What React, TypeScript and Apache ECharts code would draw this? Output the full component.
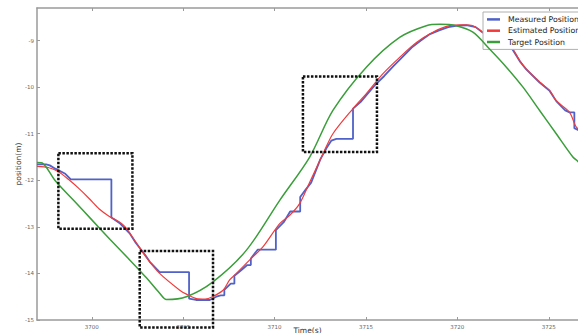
import React, { useEffect, useRef } from "react";
import * as echarts from "echarts";

const seriesNames = ["Measured Position", "Estimated Position", "Target Position"];

const measured: [number, number][] = [
  [3697.0, -11.66], [3697.5, -11.66], [3697.7, -11.68], [3698.0, -11.75], [3698.55, -11.86],
  [3698.85, -11.98], [3701.07, -11.98], [3701.07, -12.8], [3701.55, -12.93], [3702.07, -13.14],
  [3702.4, -13.34], [3702.95, -13.62], [3703.17, -13.75], [3703.71, -13.97], [3705.32, -13.97],
  [3705.32, -14.54], [3705.7, -14.57], [3706.45, -14.57], [3706.81, -14.5], [3707.05, -14.47],
  [3707.25, -14.47], [3707.25, -14.35], [3707.6, -14.22], [3707.8, -14.22], [3707.8, -14.05],
  [3708.2, -13.92], [3708.5, -13.82], [3708.7, -13.82], [3708.7, -13.68], [3709.07, -13.49],
  [3710.07, -13.49], [3710.07, -13.07], [3710.5, -12.9], [3710.85, -12.67], [3711.4, -12.67],
  [3711.4, -12.36], [3711.7, -12.2], [3712.0, -12.05], [3712.5, -11.55], [3712.85, -11.3],
  [3713.1, -11.15], [3713.38, -11.11], [3714.29, -11.11], [3714.29, -10.46], [3714.7, -10.32],
  [3715.0, -10.18], [3715.5, -9.95], [3716.0, -9.76], [3716.5, -9.55], [3717.0, -9.35],
  [3717.5, -9.15], [3718.0, -9.0], [3718.5, -8.86], [3719.0, -8.78], [3719.5, -8.71],
  [3720.0, -8.68], [3720.5, -8.67], [3721.0, -8.71], [3721.4, -8.83], [3722.2, -8.96],
  [3722.95, -9.15], [3723.41, -9.44], [3723.77, -9.62], [3724.5, -9.9], [3725.05, -10.08],
  [3725.41, -10.3], [3725.9, -10.5], [3726.14, -10.54], [3726.4, -10.54], [3726.4, -10.88],
  [3726.6, -10.92], [3727.0, -11.0],
];

const estimated: [number, number][] = [
  [3697.0, -11.7], [3697.66, -11.73], [3698.2, -11.82], [3698.75, -11.99], [3699.3, -12.18],
  [3699.85, -12.39], [3700.39, -12.61], [3700.94, -12.77], [3701.49, -12.89], [3701.85, -13.01],
  [3702.4, -13.32], [3702.95, -13.64], [3703.71, -14.0], [3704.81, -14.36], [3705.2, -14.45],
  [3705.72, -14.54], [3706.2, -14.55], [3706.6, -14.5], [3707.18, -14.36], [3707.54, -14.14],
  [3707.91, -14.0], [3708.64, -13.71], [3709.36, -13.43], [3710.28, -12.93], [3710.83, -12.75],
  [3711.37, -12.5], [3711.92, -12.04], [3712.65, -11.43], [3713.19, -11.0], [3714.29, -10.46],
  [3715.02, -10.14], [3715.93, -9.71], [3716.84, -9.36], [3717.76, -9.04], [3718.66, -8.82],
  [3719.57, -8.68], [3720.3, -8.66], [3720.85, -8.68], [3721.4, -8.82], [3722.2, -8.96],
  [3722.95, -9.14], [3723.41, -9.43], [3723.77, -9.61], [3724.5, -9.89], [3725.05, -10.07],
  [3725.41, -10.29], [3726.14, -10.54], [3726.51, -10.86], [3727.0, -11.0],
];

const target: [number, number][] = [
  [3697.0, -11.62], [3697.33, -11.64], [3698.0, -12.01], [3699.0, -12.43], [3700.0, -12.85],
  [3701.0, -13.27], [3702.0, -13.68], [3703.0, -14.1], [3703.7, -14.42], [3704.08, -14.56],
  [3705.17, -14.5], [3706.63, -14.18], [3708.46, -13.5], [3710.28, -12.43], [3711.92, -11.5],
  [3713.19, -10.5], [3715.02, -9.57], [3716.84, -8.93], [3718.3, -8.68], [3719.03, -8.65],
  [3719.94, -8.68], [3720.85, -8.82], [3721.76, -9.18], [3722.68, -9.57], [3723.59, -10.0],
  [3724.5, -10.5], [3725.41, -11.0], [3726.32, -11.5], [3726.58, -11.59], [3727.0, -11.75],
];

// dashed highlight boxes: [tStart, vTop, tEnd, vBottom]
const boxes: [number, number, number, number][] = [
  [3698.17, -11.42, 3702.22, -13.04],
  [3702.62, -13.52, 3706.63, -15.16],
  [3711.55, -9.77, 3715.6, -11.39],
];

const xTicks = [3700, 3705, 3710, 3715, 3720, 3725];
const yTicks = [-15, -14, -13, -12, -11, -10, -9];

const FONT = "DejaVu Sans";

export default function App() {
  const ref = useRef<HTMLDivElement>(null);
  useEffect(() => {
    const chart = echarts.init(ref.current!, null, { renderer: "svg" });
    const axisColor = "#9a9a9a";
    const xCommon = {
      type: "value" as const,
      min: 3697,
      max: 3726.6,
      splitLine: { show: false },
      axisLine: { show: true, lineStyle: { color: axisColor, width: 1.5 } },
      axisTick: {
        show: true,
        inside: true,
        length: 3,
        lineStyle: { color: axisColor },
        customValues: xTicks,
      },
    };
    chart.setOption({
      animation: false,
      backgroundColor: "#ffffff",
      grid: { left: 37, top: 8, right: 0, height: 312, outerBoundsMode: "none", containLabel: false },
      legend: {
        data: seriesNames,
        orient: "vertical",
        left: 483,
        top: 12,
        padding: [2, 4, 2, 4],
        itemGap: 0.5,
        itemWidth: 13,
        itemHeight: 2.5,
        icon: "rect",
        backgroundColor: "#ffffff",
        borderColor: "#b0b0b0",
        borderWidth: 1,
        borderRadius: 0,
        textStyle: {
          fontFamily: FONT,
          fontSize: 7.8,
          color: "#222",
          lineHeight: 10.8,
          padding: [0, 0, 0, 3],
        },
      },
      xAxis: [
        {
          ...xCommon,
          position: "bottom",
          name: "Time(s)",
          nameLocation: "middle",
          nameGap: 6,
          nameMoveOverlap: false,
          nameTextStyle: { fontFamily: FONT, fontSize: 7.5, color: "#333" },
          axisLabel: {
            fontFamily: FONT,
            fontSize: 5.5,
            color: "#666",
            margin: 4,
            customValues: xTicks,
            formatter: (v: number) => String(v),
          },
        },
        {
          ...xCommon,
          position: "top",
          axisLabel: { show: false },
        },
      ],
      yAxis: {
        type: "value",
        min: -15,
        max: -8.3,
        interval: 1,
        name: "position(m)",
        nameLocation: "middle",
        nameGap: 15,
        nameMoveOverlap: false,
        nameTextStyle: { fontFamily: FONT, fontSize: 7.5, color: "#333" },
        splitLine: { show: false },
        axisLine: { show: true, lineStyle: { color: axisColor, width: 1.5 } },
        axisTick: { show: true, inside: true, length: 3, lineStyle: { color: axisColor }, customValues: yTicks },
        axisLabel: {
          fontFamily: FONT,
          fontSize: 5.5,
          color: "#666",
          margin: 3,
          customValues: yTicks,
          formatter: (v: number) => String(v),
        },
      },
      series: [
        {
          name: seriesNames[0],
          type: "line",
          data: measured,
          showSymbol: false,
          color: "#4f62c8",
          lineStyle: { width: 1.8, color: "#4f62c8" },
          z: 2,
        },
        {
          name: seriesNames[1],
          type: "line",
          data: estimated,
          smooth: 0.3,
          showSymbol: false,
          color: "#f23a3a",
          lineStyle: { width: 1.2, color: "#f23a3a" },
          z: 3,
        },
        {
          name: seriesNames[2],
          type: "line",
          data: target,
          smooth: 0.3,
          showSymbol: false,
          color: "#3a9e3a",
          lineStyle: { width: 1.5, color: "#3a9e3a" },
          z: 4,
        },
        {
          type: "custom",
          data: boxes,
          encode: { x: [0, 2], y: [1, 3] },
          clip: false,
          z: 5,
          renderItem: (params: any, api: any) => {
            const p1 = api.coord([api.value(0), api.value(1)]);
            const p2 = api.coord([api.value(2), api.value(3)]);
            return {
              type: "rect",
              shape: { x: p1[0], y: p1[1], width: p2[0] - p1[0], height: p2[1] - p1[1] },
              style: { fill: "none", stroke: "#111", lineWidth: 2.5, lineDash: [2.5, 1.5] },
            };
          },
        },
      ],
    });
    return () => chart.dispose();
  }, []);
  return (
    <div
      ref={ref}
      style={{ position: "fixed", left: 0, top: 0, width: 578, height: 333, overflow: "hidden" }}
    />
  );
}
